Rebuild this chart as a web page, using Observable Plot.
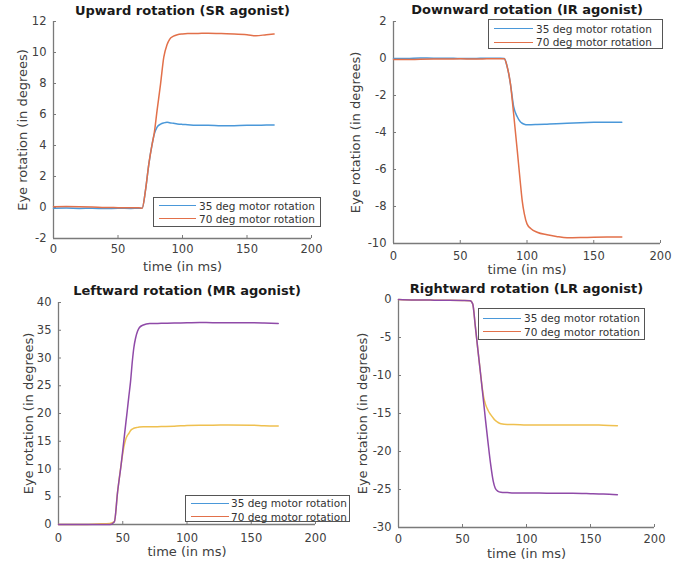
<!DOCTYPE html>
<html>
<head>
<meta charset="utf-8">
<script src="https://cdn.jsdelivr.net/npm/d3@7"></script>
<script src="https://cdn.jsdelivr.net/npm/@observablehq/plot@0.6"></script>
<style>
  html, body { margin: 0; padding: 0; background: #fff; }
  #root { position: relative; width: 700px; height: 566px; background: #fff; overflow: hidden; font-family: "DejaVu Sans", sans-serif; }
  .panel { position: absolute; }
  .legend { position: absolute; background: #fff; border: 1px solid #555; box-sizing: border-box; z-index: 5; }
  .legend .swatch { position: absolute; height: 0; border-top: 1.5px solid; }
  .legend .lab { position: absolute; font-size: 10.5px; color: #333; white-space: nowrap; transform: translateY(-50%); line-height: 1; }
</style>
</head>
<body>
<div id="root"></div>
<script>
// ---------- data ----------
const xTicks = [0, 50, 100, 150, 200];
const seriesNames = ["35 deg motor rotation", "70 deg motor rotation"];
const titles = ["Upward rotation (SR agonist)", "Downward rotation (IR agonist)", "Leftward rotation (MR agonist)", "Rightward rotation (LR agonist)"];
const xLabel = "time (in ms)";
const yLabel = "Eye rotation (in degrees)";

// Upward (SR agonist)
const upT   = [0, 10, 20, 30, 40, 50, 60, 66, 68.7, 71.3, 73.9, 76.5, 78, 80.3, 83, 85.5, 88, 90, 93, 96, 100, 104, 110, 120, 130, 140, 150, 157, 165, 171];
const up35  = [-0.05, -0.04, -0.06, -0.05, -0.07, -0.05, -0.06, -0.05, -0.05, 1.1, 2.8, 4.1, 4.7, 5.18, 5.38, 5.46, 5.5, 5.47, 5.43, 5.39, 5.36, 5.34, 5.3, 5.3, 5.27, 5.28, 5.3, 5.3, 5.32, 5.32];
const up70  = [0.05, 0.06, 0.05, 0.03, 0.0, -0.01, -0.02, -0.02, -0.05, 1.1, 2.8, 4.1, 4.75, 6.26, 7.98, 9.7, 10.5, 10.85, 11.05, 11.15, 11.2, 11.22, 11.22, 11.25, 11.22, 11.2, 11.15, 11.08, 11.15, 11.2];
const upYTicks = [-2, 0, 2, 4, 6, 8, 10, 12];

// Downward (IR agonist)
const downT  = [0, 10, 20, 30, 40, 50, 60, 70, 80, 83, 85, 87.6, 90, 92.7, 95, 96.4, 98, 100, 103, 107.6, 115, 122, 130, 140, 150, 160, 171];
const down35 = [0, 0, 0.03, 0.02, 0.02, 0, 0, 0.02, 0.02, 0, -0.4, -1.37, -2.6, -3.15, -3.42, -3.5, -3.55, -3.58, -3.58, -3.57, -3.55, -3.53, -3.5, -3.47, -3.45, -3.44, -3.44];
const down70 = [-0.05, -0.06, -0.04, -0.03, -0.03, -0.02, -0.03, -0.02, -0.01, -0.02, -0.4, -1.37, -3.0, -4.97, -6.7, -7.68, -8.4, -8.94, -9.2, -9.39, -9.53, -9.62, -9.69, -9.68, -9.66, -9.65, -9.65];
const downYTicks = [-10, -8, -6, -4, -2, 0, 2];

// Leftward (MR agonist)
const leftT  = [0, 10, 20, 30, 40, 43.5, 46, 48.8, 50.8, 52.5, 53.5, 54.7, 56, 57.5, 58.6, 60, 61.5, 63, 66, 71, 80, 90, 100, 110, 120, 132, 150, 160, 171];
const left35 = [0, 0, 0, 0.1, 0.2, 0.5, 5.9, 10.9, 13.9, 15.5, 16.0, 16.4, 16.9, 17.2, 17.35, 17.45, 17.5, 17.55, 17.6, 17.6, 17.65, 17.7, 17.85, 17.9, 17.9, 17.95, 17.9, 17.8, 17.75];
const left70 = [0, 0, 0, 0, 0, 0.5, 5.9, 10.9, 15.0, 18.5, 20.5, 23.0, 25.6, 29.5, 31.8, 33.6, 34.8, 35.5, 35.95, 36.2, 36.25, 36.3, 36.35, 36.4, 36.35, 36.35, 36.35, 36.3, 36.2];
const leftYTicks = [0, 5, 10, 15, 20, 25, 30, 35, 40];

// Rightward (LR agonist)
const rightT  = [0, 10, 20, 30, 40, 50, 56, 58, 60, 62, 64, 65.4, 66.5, 68, 70, 72, 74, 75.5, 77.5, 80, 85, 90, 100, 120, 136, 150, 160, 171];
const right35 = [0, -0.05, -0.05, -0.1, -0.1, -0.12, -0.15, -0.6, -3.5, -6.6, -9.6, -11.6, -12.8, -13.8, -14.6, -15.15, -15.6, -15.9, -16.15, -16.35, -16.45, -16.45, -16.5, -16.5, -16.5, -16.5, -16.55, -16.6];
const right70 = [0, -0.05, -0.05, -0.1, -0.1, -0.12, -0.15, -0.6, -3.5, -6.6, -9.6, -11.8, -13.5, -15.9, -18.9, -21.7, -23.9, -24.8, -25.2, -25.35, -25.4, -25.45, -25.45, -25.5, -25.5, -25.55, -25.6, -25.7];
const rightYTicks = [-30, -25, -20, -15, -10, -5, 0];

// ---------- styles / layout ----------
const blue = "#4a98d9", orange = "#e2704a", yellow = "#efc04f", purple = "#8f4aa8";
const axisGrey = "#7a7a7a", textGrey = "#404040";

const layout = [
  {left: 0,   top: 0,   w: 340, h: 280, mL: 53, mR: 29, mT: 21, mB: 42, titleDy: -11,   xlDy: 28,   ylDx: -31, xtOff: 6.5, c35: blue,   c70: orange,
   legend: {left: 153, top: 197, w: 168, h: 30, r1: 8.7, r2: 22, s0: 5, s1: 42, tx: 45}},
  {left: 340, top: 0,   w: 360, h: 280, mL: 53, mR: 40, mT: 21, mB: 37, titleDy: -11.5, xlDy: 26.5, ylDx: -38, xtOff: 8,   c35: blue,   c70: orange,
   legend: {left: 488, top: 19,  w: 175, h: 30, r1: 10, r2: 23.3, s0: 5, s1: 44, tx: 47}},
  {left: 0,   top: 280, w: 340, h: 286, mL: 58, mR: 25, mT: 22, mB: 42, titleDy: -11.3, xlDy: 27.7, ylDx: -30, xtOff: 9.5, c35: yellow, c70: purple,
   legend: {left: 185, top: 495, w: 165, h: 27, r1: 8.3, r2: 21.7, s0: 5, s1: 43, tx: 45}},
  {left: 340, top: 280, w: 360, h: 286, mL: 58, mR: 46, mT: 19, mB: 39, titleDy: -10.7, xlDy: 26,   ylDx: -36, xtOff: 7.5, c35: yellow, c70: purple,
   legend: {left: 478, top: 308, w: 167, h: 32, r1: 10.3, r2: 23.7, s0: 4, s1: 42, tx: 45}}
];

const panelData = [
  {t: upT, s35: up35, s70: up70, yTicks: upYTicks},
  {t: downT, s35: down35, s70: down70, yTicks: downYTicks},
  {t: leftT, s35: left35, s70: left70, yTicks: leftYTicks},
  {t: rightT, s35: right35, s70: right70, yTicks: rightYTicks}
];

const root = document.getElementById("root");

panelData.forEach((pd, k) => {
  const L = layout[k];
  const rows = pd.t.map((t, i) => ({t, v35: pd.s35[i], v70: pd.s70[i]}));
  const yDomain = d3.extent(pd.yTicks);
  const xDomain = d3.extent(xTicks);
  const chart = Plot.plot({
    width: L.w, height: L.h,
    marginLeft: L.mL, marginRight: L.mR, marginTop: L.mT, marginBottom: L.mB,
    x: {domain: xDomain, axis: null},
    y: {domain: yDomain, axis: null},
    style: {fontFamily: "'DejaVu Sans', sans-serif", fontSize: "11.5px", color: textGrey, background: "transparent", overflow: "visible"},
    marks: [
      Plot.ruleX([xDomain[0]], {stroke: axisGrey, strokeWidth: 1.3}),
      Plot.ruleY([yDomain[0]], {stroke: axisGrey, strokeWidth: 1.3}),
      Plot.axisX(xTicks, {tickSize: -3, tickPadding: 3 + L.xtOff, stroke: axisGrey, fill: textGrey, label: null, tickFormat: d => String(d)}),
      Plot.axisY(pd.yTicks, {tickSize: -3, tickPadding: 10, stroke: axisGrey, fill: textGrey, label: null, tickFormat: d => String(d)}),
      Plot.lineY(rows, {x: "t", y: "v35", stroke: L.c35, strokeWidth: 1.5, curve: "monotone-x"}),
      Plot.lineY(rows, {x: "t", y: "v70", stroke: L.c70, strokeWidth: 1.5, curve: "monotone-x"}),
      Plot.text([titles[k]], {text: d => d, frameAnchor: "top", dy: L.titleDy, lineAnchor: "middle", textAnchor: "middle", fontWeight: "bold", fontSize: 13, fill: "#1a1a1a"}),
      Plot.text([xLabel], {text: d => d, frameAnchor: "bottom", dy: L.xlDy, lineAnchor: "middle", textAnchor: "middle", fontSize: 13, fill: textGrey}),
      Plot.text([yLabel], {text: d => d, frameAnchor: "left", dx: L.ylDx, rotate: -90, lineAnchor: "middle", textAnchor: "middle", fontSize: 13, fill: textGrey})
    ]
  });
  const div = document.createElement("div");
  div.className = "panel";
  div.style.left = L.left + "px";
  div.style.top = L.top + "px";
  div.appendChild(chart);
  root.appendChild(div);

  // legend (MATLAB-style box; swatches use first two default colours)
  const lg = L.legend;
  const box = document.createElement("div");
  box.className = "legend";
  Object.assign(box.style, {left: lg.left + "px", top: lg.top + "px", width: lg.w + "px", height: lg.h + "px"});
  [[lg.r1, blue, seriesNames[0]], [lg.r2, orange, seriesNames[1]]].forEach(([ry, col, name]) => {
    const sw = document.createElement("div");
    sw.className = "swatch";
    Object.assign(sw.style, {left: lg.s0 + "px", width: (lg.s1 - lg.s0) + "px", top: (ry - 1.75) + "px", borderTopColor: col});
    const tx = document.createElement("div");
    tx.className = "lab";
    tx.textContent = name;
    Object.assign(tx.style, {left: lg.tx + "px", top: (ry - 1) + "px"});
    box.appendChild(sw);
    box.appendChild(tx);
  });
  root.appendChild(box);
});
</script>
</body>
</html>
